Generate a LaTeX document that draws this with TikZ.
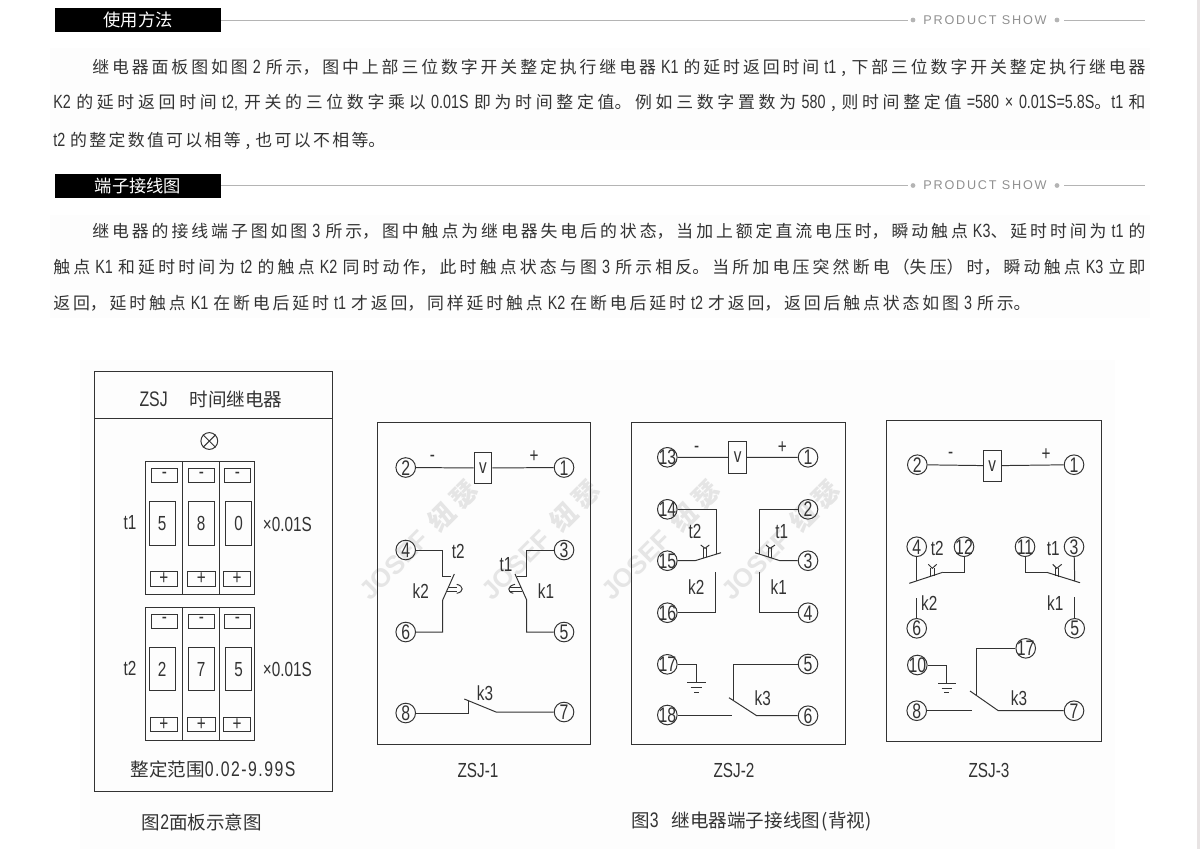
\documentclass[tikz,border=0pt]{standalone}
\usepackage{fontspec}
\usepackage{xcolor}
\setmainfont{Noto Sans CJK SC}
\newfontfamily\latf[FakeStretch=0.75]{Liberation Sans}
\newfontfamily\showf[LetterSpace=14]{Liberation Sans}
\newfontfamily\markf{Liberation Sans}
\newcommand{\lat}[1]{{\latf\fontsize{13.6}{14}\selectfont #1}}
\newcommand{\fitline}[2]{\parbox{#1}{\parfillskip=0pt #2}}
\newcommand{\tnum}[1]{\makebox[0pt]{\raisebox{-0.36em}[0pt][0pt]{#1}}}
\XeTeXlinebreaklocale "zh"
\XeTeXlinebreakskip=0pt plus 3pt
\tolerance=9999
\definecolor{ink}{HTML}{333333}
\definecolor{rulegrey}{HTML}{B4B4B4}
\definecolor{paper}{HTML}{FDFDFD}
\definecolor{strip}{HTML}{E8E4E4}
\tikzstyle{headbar} = [rectangle, fill=black, text=white, minimum width=4.15cm, minimum height=0.6cm, inner sep=0pt, font=\fontsize{12.3}{14}\selectfont]
\tikzstyle{showtext} = [text=rulegrey!80!black, inner sep=0pt, font=\showf\fontsize{9}{11}\selectfont]
\tikzstyle{showdot} = [circle, fill=rulegrey, minimum size=0.12cm, inner sep=0pt]
\tikzstyle{bodytext} = [anchor=west, inner sep=0pt, text=ink, font=\fontsize{12}{14}\selectfont]
\tikzstyle{term} = [circle, draw=ink, line width=0.7pt, minimum size=0.49cm, inner sep=0pt, text=ink, font=\latf\fontsize{15}{16}\selectfont]
\tikzstyle{coil} = [rectangle, draw=ink, line width=0.7pt, minimum width=0.44cm, minimum height=0.78cm, inner sep=0pt, text=ink, font=\latf\fontsize{14.5}{15}\selectfont]
\tikzstyle{lbl} = [inner sep=0pt, text=ink, font=\latf\fontsize{14.5}{16}\selectfont]
\tikzstyle{captext} = [inner sep=0pt, text=ink, font=\fontsize{13.2}{16}\selectfont]
\tikzstyle{wire} = [draw=ink, line width=0.7pt]
\tikzstyle{markt} = [rotate=45, text=black!10, inner sep=0pt, font=\bfseries\fontsize{18.5}{22}\selectfont]

\begin{document}
\begin{tikzpicture}[x=0.025cm, y=-0.025cm]
\useasboundingbox (0,0) rectangle (1200,849);
\fill[strip] (1197,0) rectangle (1200,849);
\fill[paper] (50,48) rectangle (1150,150);
\fill[paper] (50,215) rectangle (1150,318);
\fill[paper] (80,360) rectangle (1115,849);

\foreach \y/\head/\nm in {20/使用方法/a, 185.5/端子接线图/b} {
  \node (bar\nm) [headbar] at (138,\y) {\head};
  \node (show\nm) [showtext] at (985,\y) {PRODUCT SHOW};
  \node (dotl\nm) [showdot] at (913,\y) {};
  \node (dotr\nm) [showdot] at (1057,\y) {};
  \coordinate (end\nm) at (1145,\y);
  \coordinate (gapl\nm) at (908,\y);
  \coordinate (gapr\nm) at (1064,\y);
  \draw [rulegrey, line width=0.7pt] (bar\nm) -- (gapl\nm);
  \draw [rulegrey, line width=0.7pt] (gapr\nm) -- (end\nm);
}

\node (la) [bodytext] at (92,67.5) {\fitline{26.325cm}{继电器面板图如图 \lat{2} 所示，图中上部三位数字开关整定执行继电器 \lat{K1} 的延时返回时间 \lat{t1} , 下部三位数字开关整定执行继电器}};
\node (lb) [bodytext] at (53,102.5) {\fitline{27.3cm}{\lat{K2} 的延时返回时间 \lat{t2,} 开关的三位数字乘以 \lat{0.01S} 即为时间整定值。例如三数字置数为 \lat{580} , 则时间整定值 \lat{=580 × 0.01S=5.8S}。\lat{t1} 和}};
\node (lc) [bodytext] at (53,140.5) {\fitline{8.3cm}{\lat{t2} 的整定数值可以相等 , 也可以不相等。}};
\node (ld) [bodytext] at (92,231.5) {\fitline{26.325cm}{继电器的接线端子图如图 \lat{3} 所示，图中触点为继电器失电后的状态，当加上额定直流电压时，瞬动触点 \lat{K3}、延时时间为 \lat{t1} 的}};
\node (le) [bodytext] at (53,267.5) {\fitline{27.3cm}{触点 \lat{K1} 和延时时间为 \lat{t2} 的触点 \lat{K2} 同时动作，此时触点状态与图 \lat{3} 所示相反。当所加电压突然断电（失压）时，瞬动触点 \lat{K3} 立即}};
\node (lf) [bodytext] at (53,303.5) {\fitline{24.425cm}{返回，延时触点 \lat{K1} 在断电后延时 \lat{t1} 才返回，同样延时触点 \lat{K2} 在断电后延时 \lat{t2} 才返回，返回后触点状态如图 \lat{3} 所示。}};

\foreach \x in {418,540,660,780} {
  \node (mark\x) [markt] at (\x,540) {{\markf JOSEF}\hspace{0.45em}纽\hspace{0.2em}瑟};
}

% panel
\draw [wire] (94.3,371) rectangle (332.7,791);
\draw [wire] (94.3,418.7) -- (332.7,418.7);
\node (ptitle) [captext] at (211,399) {\lat{\fontsize{15}{16}\selectfont ZSJ}\hspace{15.6pt}时间继电器};
\node (lamp) [circle, draw=ink, line width=0.7pt, minimum size=0.42cm, inner sep=0pt] at (209.3,441) {};
\draw [wire] (lamp.north west) -- (lamp.south east);
\draw [wire] (lamp.north east) -- (lamp.south west);
\foreach \d/\dg/\dgb/\dgc/\tn in {0/5/8/0/t1, 145.7/2/7/5/t2} {
  \draw [wire] (145.7,461.7+\d) rectangle (254,594.3+\d);
  \draw [wire] (182.7,461.7+\d) -- (182.7,594.3+\d);
  \draw [wire] (219.7,461.7+\d) -- (219.7,594.3+\d);
  \foreach \xa/\xb in {151/177.7, 188/214.7, 224.3/250.7} {
    \draw [wire] (\xa,468.7+\d) rectangle (\xb,482.3+\d);
    \node [lbl] at ({(\xa+\xb)/2},475+\d) {-};
  }
  \foreach \xa/\xb in {150/177.7, 187.3/215.3, 223.3/250.7} {
    \draw [wire] (\xa,571.7+\d) rectangle (\xb,586+\d);
    \node [lbl] at ({(\xa+\xb)/2},578.5+\d) {+};
  }
  \draw [wire] (149,501.3+\d) rectangle (175,545+\d);
  \draw [wire] (188,501.3+\d) rectangle (214.3,545+\d);
  \draw [wire] (225.7,501.3+\d) rectangle (251.7,545+\d);
  \node [lbl] at (162,523.5+\d) {\dg};
  \node [lbl] at (201,523.5+\d) {\dgb};
  \node [lbl] at (238.7,523.5+\d) {\dgc};
  \node [lbl] at (130,522.3+\d) {\tn};
  \node [lbl] at (287.3,524+\d) {×0.01S};
}
\node (prange) [captext] at (213,769.3) {整定范围\lat{\fontsize{15}{16}\selectfont\addfontfeatures{LetterSpace=7}0.02-9.99S}};
\node (pcap) [captext] at (202,822) {图\lat{\fontsize{15}{16}\selectfont 2}面板示意图};

% ZSJ-1
\draw [wire] (377,422) rectangle (590,744);
\node (av) [coil] at (483,468) {v};
\foreach \nm/\px/\py in {2/405.7/467.5, 1/564/467.5, 4/405.7/550, 3/564/550, 6/405.7/632, 5/564/632, 8/405.7/713, 7/564/712} {
  \node (a\nm) [term] at (\px,\py) {\tnum{\nm}};
}
\draw [wire] (a2) -- (av);
\draw [wire] (av) -- (a1);
\node [lbl] at (432.3,458) {-};
\node [lbl] at (534,457) {+};
\node [lbl] at (458.3,551) {t2};
\node [lbl] at (420.7,591) {k2};
\node [lbl] at (506,565) {t1};
\node [lbl] at (546,591) {k1};
\node [lbl] at (485,693) {k3};
\coordinate (ak2a) at (442.7,600);
\coordinate (ak2b) at (454.3,574);
\coordinate (ak2c) at (450.7,576.7);
\coordinate (ak1a) at (526.7,600);
\coordinate (ak1b) at (515,574);
\coordinate (ak1c) at (517.3,576.7);
\coordinate (ak3a) at (468,700.7);
\coordinate (ak3b) at (464.3,699);
\coordinate (ak3c) at (496,712);
\draw [wire] (a4) -| (442.7,576.7) -- (ak2c);
\draw [wire] (a6) -| (ak2a) -- (ak2b);
\draw [wire] (a3) -| (526.7,576.7) -- (ak1c);
\draw [wire] (a5) -| (ak1a) -- (ak1b);
\draw [wire] (a8) -| (ak3a);
\draw [wire] (a7) -- (ak3c) -- (ak3b);
\draw [wire] (448,587.7) -- (456.7,587.7) (447,591.7) -- (456.7,591.7);
\draw [wire] (456.7,584.3) .. controls (464,586) and (464,592) .. (456.7,593.3);
\draw [wire] (521,587.7) -- (510,587.7) (522,591.7) -- (510,591.7);
\draw [wire] (515,584.3) .. controls (507,586) and (507,592) .. (513.3,593.3);
\node (acap) [lbl] at (478,770) {ZSJ-1};

% ZSJ-2
\draw [wire] (631,422.3) rectangle (845.7,744);
\node (bv) [coil] at (737.6,457.5) {v};
\foreach \nm/\px/\py in {13/667.3/457.3, 1/808/457.3, 14/667.3/509.3, 2/808/509.3, 15/667.3/560.7, 3/808/560.7, 16/667.3/612.7, 4/808/612.7, 17/667.3/664.3, 5/808/664, 18/667.3/715, 6/808/715.7} {
  \node (b\nm) [term] at (\px,\py) {\tnum{\nm}};
}
\draw [wire] (b13) -- (bv);
\draw [wire] (bv) -- (b1);
\node [lbl] at (696.7,449) {-};
\node [lbl] at (782.3,448) {+};
\node [lbl] at (695,531.7) {t2};
\node [lbl] at (696.3,587) {k2};
\node [lbl] at (781.7,531.7) {t1};
\node [lbl] at (778.7,587) {k1};
\node [lbl] at (762.7,697.7) {k3};
\coordinate (bk2a) at (695,560.7);
\coordinate (bk2b) at (721,552.7);
\coordinate (bk2c) at (716,554.3);
\coordinate (bk2d) at (715.3,571.7);
\coordinate (bk1a) at (780,560.7);
\coordinate (bk1b) at (755,552.7);
\coordinate (bk1c) at (759.7,554.3);
\coordinate (bk1d) at (759.7,571.7);
\draw [wire] (b14) -| (bk2c);
\draw [wire] (b15) -- (bk2a) -- (bk2b);
\draw [wire] (b16) -| (bk2d);
\draw [wire] (b2) -| (bk1c);
\draw [wire] (b3) -- (bk1a) -- (bk1b);
\draw [wire] (b4) -| (bk1d);
\draw [wire] (703.3,548.3) -- (703.3,557.8) (706.7,548.3) -- (706.7,556.8);
\draw [wire] (700.7,545) -- (705,548.3) -- (709.3,545);
\draw [wire] (768.3,548.3) -- (768.3,557) (771.7,548.3) -- (771.7,558);
\draw [wire] (766,545) -- (770,548.3) -- (775,545);
\coordinate (bgnd) at (696.7,682.7);
\draw [wire] (b17) -| (bgnd);
\draw [wire] (687.3,682.7) -- (705.7,682.7) (690.7,687.7) -- (702.3,687.7) (694,692.3) -- (699,692.3);
\coordinate (bk3a) at (729,697.7);
\coordinate (bk3b) at (756.7,715.7);
\coordinate (bk3c) at (733,700.3);
\coordinate (bk3d) at (731.7,715);
\draw [wire] (b5) -| (bk3c);
\draw [wire] (b6) -- (bk3b) -- (bk3a);
\draw [wire] (b18) -- (bk3d);
\node (bcap) [lbl] at (734,770) {ZSJ-2};

% ZSJ-3
\draw [wire] (886,420.7) rectangle (1101.3,741.7);
\node (cv) [coil] at (992.2,465.7) {v};
\foreach \nm/\px/\py in {2/917.3/464.7, 1/1074/464.7, 4/916.7/546.7, 12/964/546.7, 11/1025/546.7, 3/1074/546.7, 6/916.7/628.3, 5/1074.7/628.3, 17/1025.7/648.3, 10/917.3/665, 8/916.7/710.7, 7/1074/710.7} {
  \node (c\nm) [term] at (\px,\py) {\tnum{\nm}};
}
\draw [wire] (c2) -- (cv);
\draw [wire] (cv) -- (c1);
\node [lbl] at (950.7,455) {-};
\node [lbl] at (1046,455) {+};
\node [lbl] at (937.3,548.3) {t2};
\node [lbl] at (1053.3,548.3) {t1};
\node [lbl] at (929.3,603.3) {k2};
\node [lbl] at (1055.3,603.3) {k1};
\node [lbl] at (1019,698.3) {k3};
\coordinate (ck2a) at (909.3,583.3);
\coordinate (ck2b) at (942.7,572.3);
\coordinate (ck2c) at (916.7,580.9);
\coordinate (ck2d) at (916.7,598.3);
\coordinate (ck1a) at (1080,582.7);
\coordinate (ck1b) at (1046.7,572.3);
\coordinate (ck1c) at (1074.7,581);
\coordinate (ck1d) at (1074.7,597.3);
\draw [wire] (c4) -- (ck2c);
\draw [wire] (ck2a) -- (ck2b);
\draw [wire] (c12) |- (ck2b);
\draw [wire] (c6) -- (ck2d);
\draw [wire] (c3) -- (ck1c);
\draw [wire] (ck1a) -- (ck1b);
\draw [wire] (c11) |- (ck1b);
\draw [wire] (c5) -- (ck1d);
\draw [wire] (930.7,568.3) -- (930.7,577.3) (934.3,568.3) -- (934.3,576);
\draw [wire] (928.3,564.3) -- (932.3,568.3) -- (936.7,564.3);
\draw [wire] (1055,568.3) -- (1055,575.6) (1058.3,568.3) -- (1058.3,576.7);
\draw [wire] (1052.7,564.3) -- (1056.7,568.3) -- (1061.7,564.3);
\coordinate (cgnd) at (946.7,683.3);
\draw [wire] (c10) -| (cgnd);
\draw [wire] (938.3,683.3) -- (955.7,683.3) (941.7,688) -- (952.3,688) (944.3,692.3) -- (949.3,692.3);
\coordinate (ck3a) at (970,691);
\coordinate (ck3b) at (998.3,710.7);
\coordinate (ck3c) at (976,695.2);
\coordinate (ck3d) at (971.7,710.7);
\draw [wire] (c17) -| (ck3c);
\draw [wire] (c7) -- (ck3b) -- (ck3a);
\draw [wire] (c8) -- (ck3d);
\node (ccap) [lbl] at (989,770) {ZSJ-3};

\node (fcap) [captext, anchor=west] at (631,821) {图\lat{\fontsize{15}{16}\selectfont 3}\hspace{0.7em}继电器端子接线图\hspace{0.1em}(背视)};
\end{tikzpicture}
\end{document}
